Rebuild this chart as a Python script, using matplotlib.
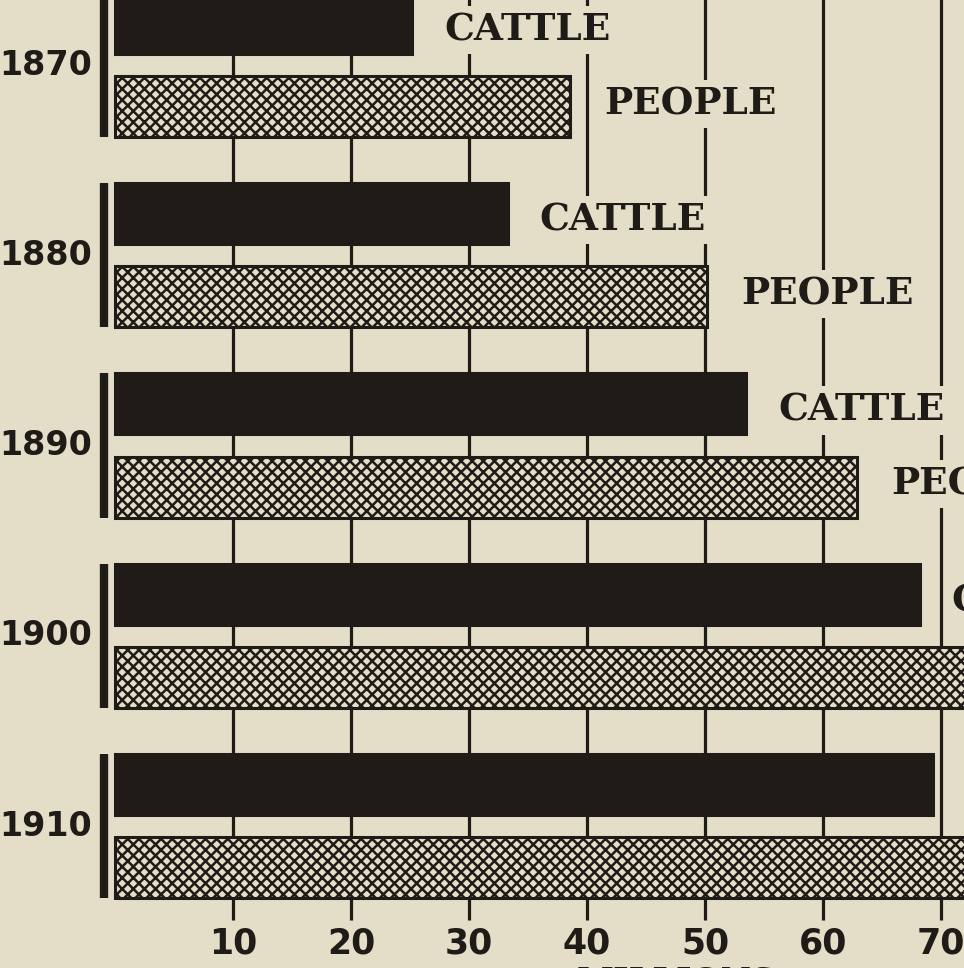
import matplotlib.pyplot as plt
import numpy as np

# values in millions
years = ['1870', '1880', '1890', '1900', '1910']
cattle = [25.2, 33.3, 53.5, 68.2, 69.3]
people = [38.6, 50.2, 62.9, 76.0, 92.0]
ticks = [10, 20, 30, 40, 50, 60, 70]
unit_label = 'MILLIONS'

paper = '#e4ddc8'
ink = '#1f1b17'

plt.rcParams['hatch.linewidth'] = 1.8
plt.rcParams['hatch.color'] = ink

fig = plt.figure(figsize=(9.64, 9.68), dpi=100)
fig.patch.set_facecolor(paper)
ax = fig.add_axes([0, 0, 1, 1])
ax.set_facecolor(paper)
ax.axis('off')

# x: 0 sits at pixel 115, 11.8 px per unit; y: one unit per year group
ax.set_xlim(-115 / 11.8, (964 - 115) / 11.8)
ax.set_ylim((968 - 65) / 190.25, -65 / 190.25)

pos = np.arange(len(years))
off = 0.219
h = 0.32

# vertical guide lines behind the bars
ax.vlines(ticks, -1, 4.494, color=ink, lw=2.3, zorder=1)

ax.barh(pos - off, cattle, height=h, color=ink, edgecolor=ink, lw=2.2, zorder=2)
ax.barh(pos + off, people, height=h, color=paper, edgecolor=ink, lw=2.2,
        hatch='xxx', zorder=2)

xmax = ax.get_xlim()[1]
lab = dict(fontsize=27, fontweight='bold', family='DejaVu Serif', color=ink,
           va='center', ha='left', zorder=3,
           bbox=dict(facecolor=paper, edgecolor='none', pad=4))
for i in range(len(years)):
    # labels that would start past the right edge are off the page in the scan
    if cattle[i] + 2.7 < xmax:
        ax.text(cattle[i] + 2.7, i - off + 0.035, 'CATTLE', **lab)
    if people[i] + 2.9 < xmax:
        ax.text(people[i] + 2.9, i + off - 0.015, 'PEOPLE', **lab)

    # year label and thick bracket bar
    ax.text(-1.95, i, years[i], fontsize=24, fontweight='bold', color=ink,
            ha='right', va='center')
    ax.vlines(-0.95, i - off - h / 2, i + off + h / 2, color=ink, lw=6,
              zorder=2)

for t in ticks:
    ax.text(t, 4.615, str(t), fontsize=25, fontweight='bold', color=ink,
            ha='center', va='center')

ax.text(47.6, 4.735, unit_label, fontsize=24, fontweight='bold',
        family='DejaVu Serif', color=ink, ha='center', va='top')

fig.savefig('out.png', dpi=100, facecolor=paper)
